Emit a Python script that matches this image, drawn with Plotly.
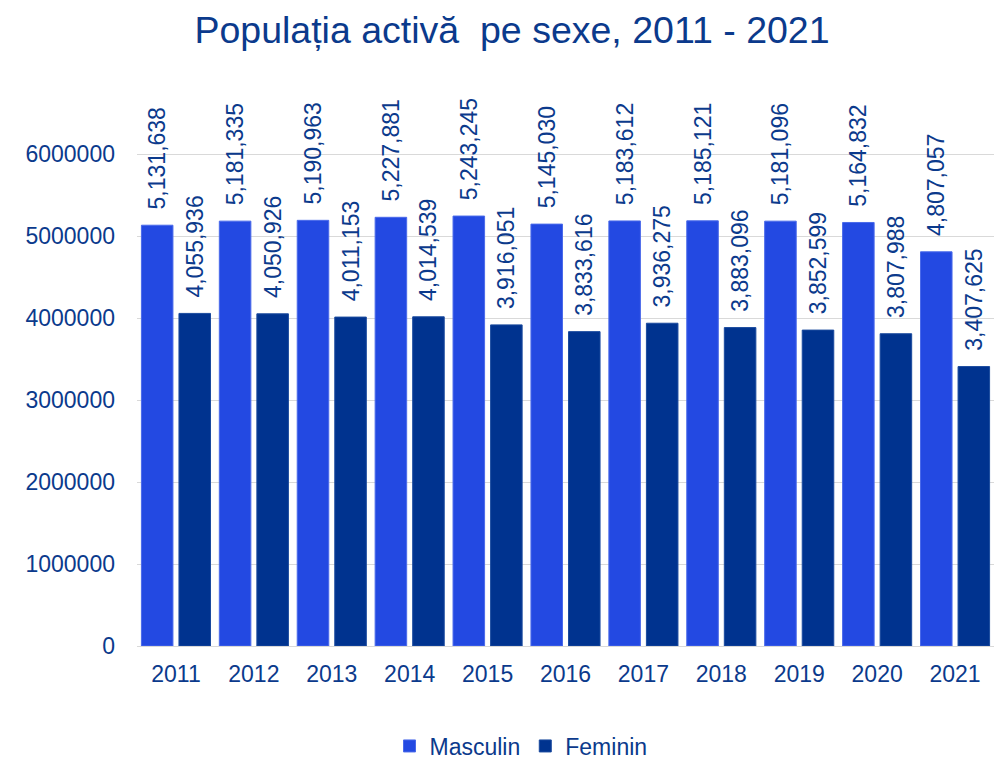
import plotly.graph_objects as go

years = ["2011", "2012", "2013", "2014", "2015", "2016", "2017", "2018", "2019", "2020", "2021"]
masculin = [5131638, 5181335, 5190963, 5227881, 5243245, 5145030, 5183612, 5185121, 5181096, 5164832, 4807057]
feminin = [4055936, 4050926, 4011153, 4014539, 3916051, 3833616, 3936275, 3883096, 3852599, 3807988, 3407625]
y_ticks = [0, 1000000, 2000000, 3000000, 4000000, 5000000, 6000000]

TXT = "#0B3A8C"
FONT = "Liberation Sans, Arial, sans-serif"
FS = 23
PAD = "\u00a0\u00a0"
W, H = 994, 762

fig = go.Figure()
fig.add_trace(go.Bar(
    name="Masculin", x=years, y=masculin,
    marker=dict(color="#2349E2", line=dict(color="#4A6AEA", width=1)),
    text=[PAD + f"{v:,}" for v in masculin], textposition="outside", textangle=-90,
    constraintext="none",
    textfont=dict(size=FS, color=TXT, family=FONT), cliponaxis=False,
))
fig.add_trace(go.Bar(
    name="Feminin", x=years, y=feminin,
    marker=dict(color="#00338F", line=dict(color="#1A4A9E", width=1)),
    text=[PAD + f"{v:,}" for v in feminin], textposition="outside", textangle=-90,
    constraintext="none",
    textfont=dict(size=FS, color=TXT, family=FONT), cliponaxis=False,
))

fig.update_layout(
    width=W, height=H,
    paper_bgcolor="white", plot_bgcolor="white",
    font=dict(family=FONT, color=TXT, size=FS),
    title=dict(text="Populația activă  pe sexe, 2011 - 2021", x=512 / W, xanchor="center",
               y=1 - 30 / H, yanchor="middle", font=dict(size=37.5, color=TXT, family=FONT)),
    barmode="group", bargap=0.036, bargroupgap=0.16,
    margin=dict(l=137, r=0, t=72, b=H - 646),
    legend=dict(orientation="h", xref="container", yref="container",
                x=521 / W, xanchor="center", y=1 - 746 / H, yanchor="middle",
                font=dict(size=FS, color=TXT, family=FONT), traceorder="normal"),
    showlegend=True,
)
fig.update_yaxes(range=[0, 7000000], tickvals=y_ticks, ticktext=[str(v) for v in y_ticks],
                 showgrid=True, gridcolor="#D9D9D9", gridwidth=1, zeroline=True,
                 zerolinecolor="#D9D9D9", zerolinewidth=1, ticks="", ticklabelstandoff=21,
                 tickfont=dict(size=FS, color=TXT, family=FONT), showline=False)
fig.update_xaxes(tickfont=dict(size=FS, color=TXT, family=FONT), ticks="", showline=False,
                 ticklabelstandoff=12)

fig.write_html("out.html", config={"displayModeBar": False},
               post_script="document.body.style.margin='0';document.body.style.overflow='hidden';")
